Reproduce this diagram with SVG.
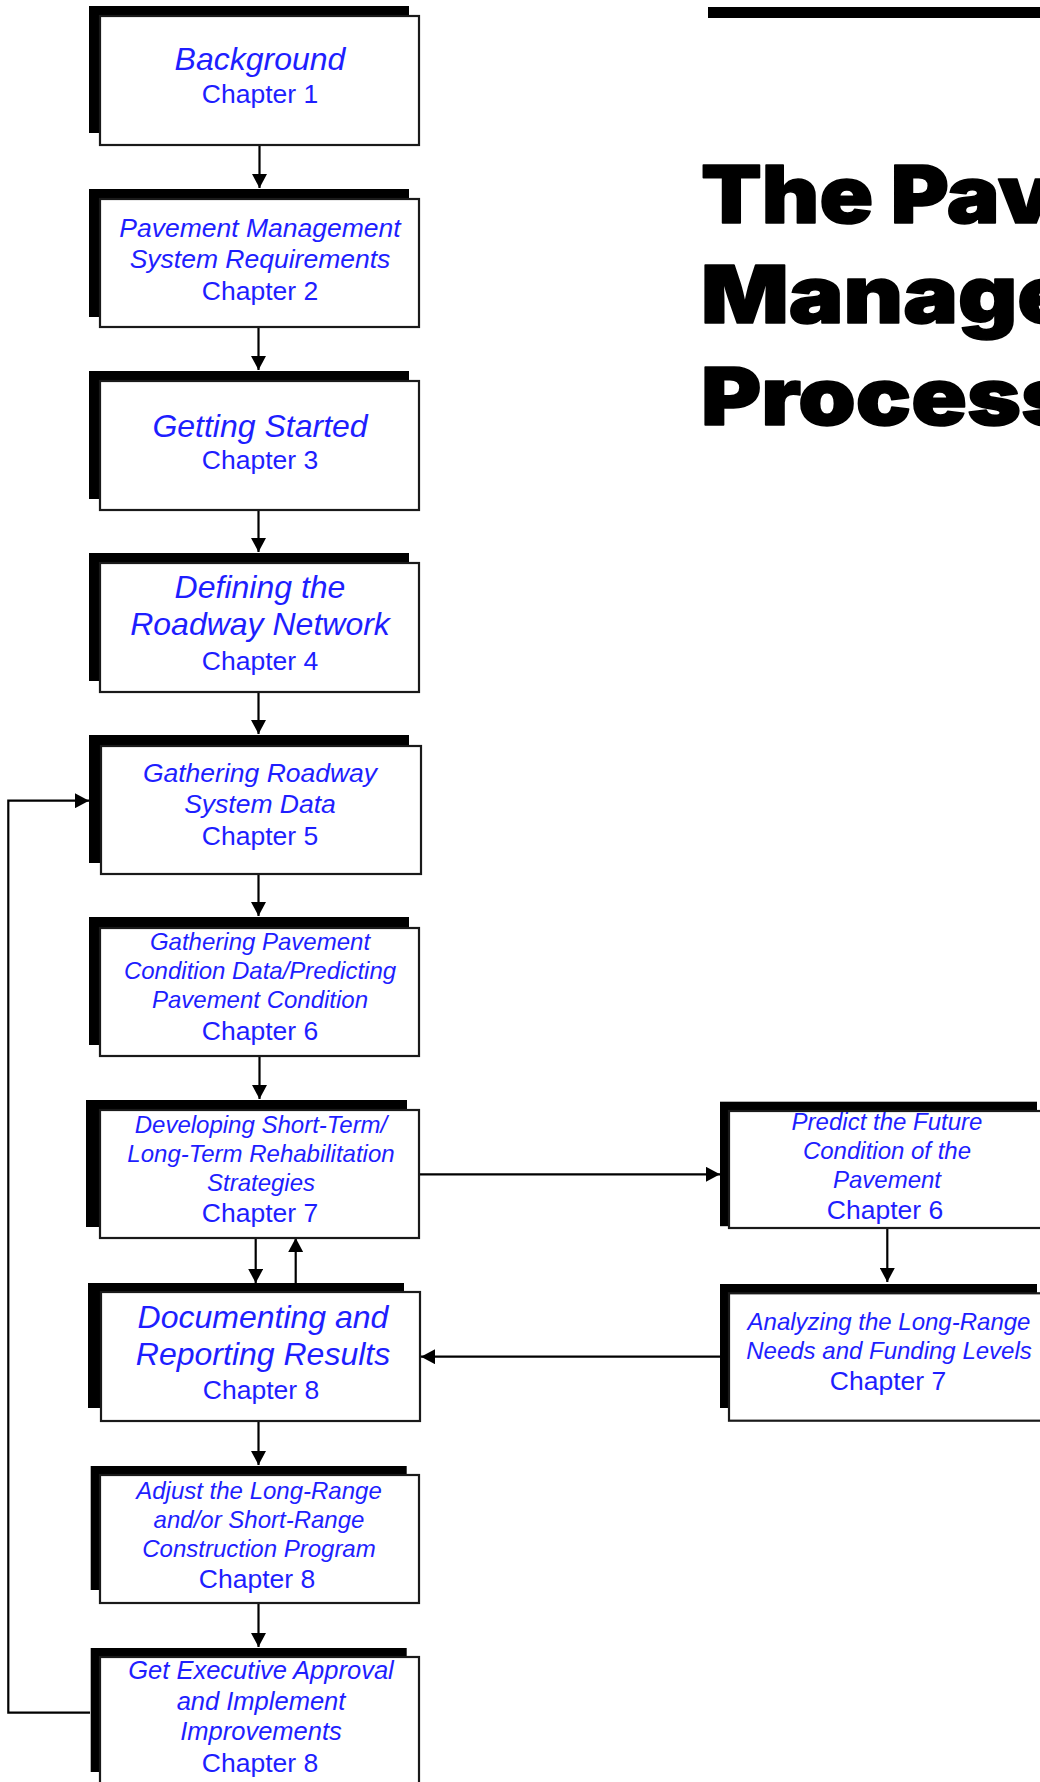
<svg xmlns="http://www.w3.org/2000/svg" width="1040" height="1782" viewBox="0 0 1040 1782">
  <style>
    .shadow { fill: #000; }
    .box { fill: #fff; stroke: #1a1a1a; stroke-width: 2.2; }
    .t { font-family: "Liberation Sans", Arial, Helvetica, sans-serif; fill: #1e1eff; text-anchor: middle; }
    .it { font-style: italic; }
    .big { font-size: 32px; }
    .mid { font-size: 26.5px; }
    .sm { font-size: 24px; }
    .ch { font-size: 26.5px; }
    .conn { fill: none; stroke: #000; stroke-width: 2.2; }
    .title { font-family: "Inter", "Roboto", "Lato", "Liberation Sans", Arial, sans-serif; font-weight: 900; font-size: 80px; fill: #000; stroke: #000; stroke-width: 1.6; stroke-linejoin: round; }
  </style>
  <defs>
    <marker id="arrow" viewBox="0 0 14 15" refX="14" refY="7.5" markerWidth="14" markerHeight="15" markerUnits="userSpaceOnUse" orient="auto">
      <path d="M0,0 L14,7.5 L0,15 z" fill="#000"/>
    </marker>
  </defs>

  <rect width="1040" height="1782" fill="#fff"/>

  <!-- title block -->
  <g id="title">
    <rect x="708" y="7" width="332" height="11" fill="#000"/>
    <text class="title" x="701" y="223" textLength="353" lengthAdjust="spacingAndGlyphs">The Pav</text>
    <text class="title" x="701" y="323" textLength="372" lengthAdjust="spacingAndGlyphs">Manage</text>
    <text class="title" x="701" y="425" textLength="374" lengthAdjust="spacingAndGlyphs">Process</text>
  </g>

  <!-- connectors -->
  <g id="connectors">
    <path class="conn" d="M259.5,146 V188" marker-end="url(#arrow)"/>
    <path class="conn" d="M258.5,328 V370" marker-end="url(#arrow)"/>
    <path class="conn" d="M258.5,510 V552" marker-end="url(#arrow)"/>
    <path class="conn" d="M258.5,692 V734" marker-end="url(#arrow)"/>
    <path class="conn" d="M258.5,874 V916" marker-end="url(#arrow)"/>
    <path class="conn" d="M259.5,1056 V1099" marker-end="url(#arrow)"/>
    <path class="conn" d="M255.7,1238 V1283" marker-end="url(#arrow)"/>
    <path class="conn" d="M295.7,1283 V1238" marker-end="url(#arrow)"/>
    <path class="conn" d="M258.5,1421 V1465" marker-end="url(#arrow)"/>
    <path class="conn" d="M258.5,1603 V1647" marker-end="url(#arrow)"/>
    <path class="conn" d="M420,1174.3 H720" marker-end="url(#arrow)"/>
    <path class="conn" d="M887.3,1228 V1282" marker-end="url(#arrow)"/>
    <path class="conn" d="M720,1356.7 H421" marker-end="url(#arrow)"/>
    <path class="conn" d="M90,1712.7 H8.3 V800.7 H89" marker-end="url(#arrow)"/>
  </g>

  <!-- chapter nodes, left column -->
  <g id="n1">
    <rect class="shadow" x="89" y="6" width="320" height="127"/>
    <rect class="box" x="100" y="16" width="319" height="129"/>
    <text class="t it big" x="260" y="70">Background</text>
    <text class="t ch" x="260" y="103">Chapter 1</text>
  </g>
  <g id="n2">
    <rect class="shadow" x="89" y="189" width="320" height="128"/>
    <rect class="box" x="100" y="199" width="319" height="128"/>
    <text class="t it mid" x="260" y="236.7">Pavement Management</text>
    <text class="t it mid" x="260" y="268">System Requirements</text>
    <text class="t ch" x="260" y="300">Chapter 2</text>
  </g>
  <g id="n3">
    <rect class="shadow" x="89" y="371" width="320" height="128"/>
    <rect class="box" x="100" y="381" width="319" height="129"/>
    <text class="t it big" x="260" y="436.7">Getting Started</text>
    <text class="t ch" x="260" y="469.3">Chapter 3</text>
  </g>
  <g id="n4">
    <rect class="shadow" x="89" y="553" width="320" height="128"/>
    <rect class="box" x="100" y="563" width="319" height="129"/>
    <text class="t it big" x="260" y="598.3">Defining the</text>
    <text class="t it big" x="260" y="635">Roadway Network</text>
    <text class="t ch" x="260" y="670">Chapter 4</text>
  </g>
  <g id="n5">
    <rect class="shadow" x="89" y="735" width="320" height="128"/>
    <rect class="box" x="101" y="746" width="320" height="128"/>
    <text class="t it mid" x="260" y="781.7">Gathering Roadway</text>
    <text class="t it mid" x="260" y="813">System Data</text>
    <text class="t ch" x="260" y="845">Chapter 5</text>
  </g>
  <g id="n6">
    <rect class="shadow" x="89" y="917" width="320" height="128"/>
    <rect class="box" x="100" y="928" width="319" height="128"/>
    <text class="t it sm" x="260" y="950">Gathering Pavement</text>
    <text class="t it sm" x="260" y="979">Condition Data/Predicting</text>
    <text class="t it sm" x="260" y="1008">Pavement Condition</text>
    <text class="t ch" x="260" y="1040">Chapter 6</text>
  </g>
  <g id="n7">
    <rect class="shadow" x="86" y="1100" width="321" height="127"/>
    <rect class="box" x="100" y="1110" width="319" height="128"/>
    <text class="t it sm" x="261" y="1133">Developing Short-Term/</text>
    <text class="t it sm" x="261" y="1162">Long-Term Rehabilitation</text>
    <text class="t it sm" x="261" y="1191">Strategies</text>
    <text class="t ch" x="260" y="1222">Chapter 7</text>
  </g>
  <g id="n8">
    <rect class="shadow" x="88" y="1283" width="316" height="125"/>
    <rect class="box" x="101" y="1292" width="319" height="129"/>
    <text class="t it big" x="263" y="1328">Documenting and</text>
    <text class="t it big" x="263" y="1365">Reporting Results</text>
    <text class="t ch" x="261" y="1399">Chapter 8</text>
  </g>
  <g id="n9">
    <rect class="shadow" x="90.7" y="1466" width="316" height="124"/>
    <rect class="box" x="100" y="1475" width="319" height="128"/>
    <text class="t it sm" x="259" y="1499.3">Adjust the Long-Range</text>
    <text class="t it sm" x="259" y="1528.3">and/or Short-Range</text>
    <text class="t it sm" x="259" y="1557.3">Construction Program</text>
    <text class="t ch" x="257" y="1588.3">Chapter 8</text>
  </g>
  <g id="n10">
    <rect class="shadow" x="90.7" y="1648" width="316" height="124"/>
    <rect class="box" x="100" y="1657" width="319" height="129"/>
    <text class="t it" style="font-size:25.5px" x="261" y="1679.3">Get Executive Approval</text>
    <text class="t it" style="font-size:25.5px" x="261" y="1710">and Implement</text>
    <text class="t it" style="font-size:25.5px" x="261" y="1740">Improvements</text>
    <text class="t ch" x="260" y="1771.7">Chapter 8</text>
  </g>

  <!-- right column -->
  <g id="r1">
    <rect class="shadow" x="720" y="1101.7" width="317" height="124.5"/>
    <rect class="box" x="729" y="1111" width="319" height="117"/>
    <text class="t it sm" x="887" y="1130">Predict the Future</text>
    <text class="t it sm" x="887" y="1159.3">Condition of the</text>
    <text class="t it sm" x="887" y="1188">Pavement</text>
    <text class="t ch" x="885" y="1219">Chapter 6</text>
  </g>
  <g id="r2">
    <rect class="shadow" x="720" y="1284" width="317" height="124"/>
    <rect class="box" x="729" y="1293.3" width="319" height="127.4"/>
    <text class="t it sm" x="889" y="1330">Analyzing the Long-Range</text>
    <text class="t it sm" x="889" y="1359">Needs and Funding Levels</text>
    <text class="t ch" x="888" y="1390">Chapter 7</text>
  </g>
</svg>
